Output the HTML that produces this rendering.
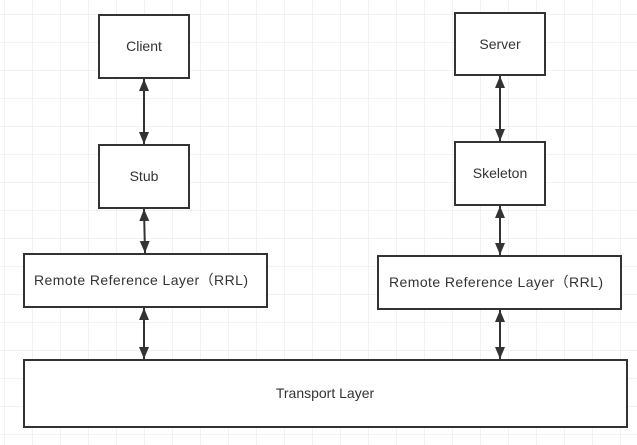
<!DOCTYPE html>
<html><head><style>
html,body{margin:0;padding:0;background:#fff;}
svg{display:block;}
text{font-family:"Liberation Sans","Noto Sans CJK SC",sans-serif;font-size:14px;fill:#333;}
</style></head><body>
<svg width="637" height="445" xmlns="http://www.w3.org/2000/svg">
<defs>
<pattern id="g" x="4" y="14" width="28" height="28" patternUnits="userSpaceOnUse">
<path d="M0 0H28M0 0V28" stroke="#e6e6e6" stroke-width="1" fill="none"/>
</pattern>
<marker id="a" viewBox="0 0 12 10" refX="12" refY="5" markerWidth="12" markerHeight="10" markerUnits="userSpaceOnUse" orient="auto-start-reverse">
<path d="M0 0L12 5L0 10z" fill="#333"/>
</marker>
</defs>
<rect width="637" height="445" fill="url(#g)"/>
<g fill="#fff" stroke="#333" stroke-width="2">
<rect x="99" y="15" width="90" height="63"/>
<rect x="99" y="145" width="90" height="63"/>
<rect x="24" y="254" width="243" height="53"/>
<rect x="455" y="13" width="90" height="62"/>
<rect x="455" y="142" width="90" height="63"/>
<rect x="378" y="256" width="243" height="53"/>
<rect x="24" y="360" width="603" height="67"/>
</g>
<g stroke="#333" stroke-width="2" marker-start="url(#a)" marker-end="url(#a)">
<line x1="144" y1="79" x2="144" y2="144"/>
<line x1="144" y1="209" x2="145" y2="253"/>
<line x1="144" y1="308" x2="144" y2="359"/>
<line x1="500" y1="76" x2="500" y2="141"/>
<line x1="500" y1="206" x2="500" y2="255"/>
<line x1="500" y1="310" x2="500" y2="359"/>
</g>
<text x="144" y="51" text-anchor="middle">Client</text>
<text x="144" y="181" text-anchor="middle">Stub</text>
<text x="34" y="285" textLength="214" lengthAdjust="spacing">Remote Reference Layer（RRL)</text>
<text x="500" y="49" text-anchor="middle">Server</text>
<text x="500" y="178" text-anchor="middle">Skeleton</text>
<text x="389" y="287" textLength="214" lengthAdjust="spacing">Remote Reference Layer（RRL)</text>
<text x="325" y="398" text-anchor="middle">Transport Layer</text>
</svg>
</body></html>
